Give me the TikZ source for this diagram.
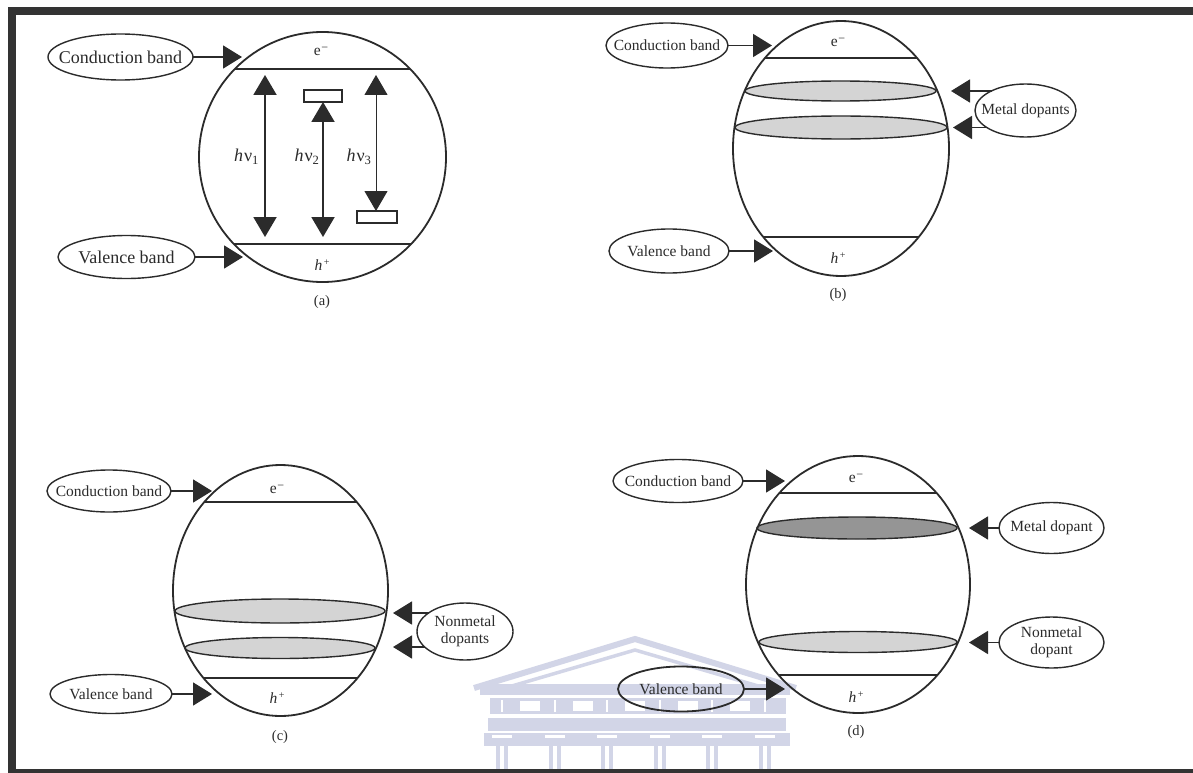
\documentclass[tikz,border=0pt]{standalone}
\usepackage{fontspec}
\setmainfont{Liberation Serif}
\usetikzlibrary{arrows.meta,shapes.geometric}
\definecolor{ink}{HTML}{2B2B2B}
\definecolor{framegray}{HTML}{333333}
\definecolor{dopelight}{HTML}{D4D4D4}
\definecolor{dopedark}{HTML}{959595}
\definecolor{crest}{RGB}{210,213,231}

\newcommand{\elec}{e\kern0.5pt\raisebox{0.55ex}{\fontsize{12}{12}\selectfont −}}
\newcommand{\hole}{\textit{h}\kern1.5pt\raisebox{0.75ex}{\fontsize{10}{10}\selectfont +}}

\begin{document}
\begin{tikzpicture}[x=1pt,y=-1pt,
  lbl/.style={draw=ink, line width=1.4pt, ellipse, inner sep=0pt, outer sep=0pt,
              text=ink, font=\fontsize{15.5}{17}\selectfont},
  biglbl/.style={lbl, font=\fontsize{18}{20}\selectfont},
  txt/.style={text=ink, inner sep=0pt, font=\fontsize{15.5}{17}\selectfont},
  shell/.style={draw=ink, line width=1.8pt, ellipse, inner sep=0pt, outer sep=0pt},
  band/.style={draw=ink, line width=1.8pt},
  thinband/.style={draw=ink, line width=1.1pt},
  dope/.style={draw=ink, line width=1.4pt, ellipse, inner sep=0pt, fill=dopelight},
  dopeheavy/.style={dope, fill=dopedark},
  ptr/.style={draw=ink, line width=1.6pt, -{Triangle[length=19pt,width=23pt]}},
  dbl/.style={draw=ink, line width=2pt,
              {Triangle[length=20pt,width=23pt]}-{Triangle[length=20pt,width=23pt]}},
  dblthin/.style={dbl, line width=1pt},
  trap/.style={draw=ink, line width=1.4pt, fill=white, inner sep=0pt, outer sep=0pt,
               minimum height=12pt}
]
\useasboundingbox (0,0) rectangle (1193,773);
\fill[white] (0,0) rectangle (1193,773);

% ---------- faint building emblem ----------
\begin{scope}
  \draw[crest, line width=6pt, line join=miter] (474,688) -- (635,639) -- (796,688);
  \draw[crest, line width=3.5pt, line join=miter] (505,688) -- (635,650) -- (765,688);
  \fill[crest] (480,684) rectangle (790,695);
  \fill[crest] (490,698) rectangle (786,714);
  \foreach \k in {0,...,4} {
    \pgfmathsetmacro{\xo}{496+52.5*\k}
    \fill[white] (\xo+24,701) rectangle (\xo+44,711);
    \fill[white] (\xo+5,700) rectangle (\xo+7,712);
  }
  \fill[white] (759+5,700) rectangle (759+7,712);
  \fill[crest] (488,718) rectangle (786,731);
  \fill[crest] (484,733) rectangle (790,746);
  \foreach \k in {0,...,5} {
    \pgfmathsetmacro{\xo}{496+52.5*\k}
    \fill[white] (\xo-4,735) rectangle (\xo+16,738);
    \fill[crest] (\xo,746) rectangle (\xo+4,769);
    \fill[crest] (\xo+8,746) rectangle (\xo+12,769);
  }
\end{scope}

% ======================= panel (a) =======================
\begin{scope}
  \clip (322.5,157) ellipse [x radius=123.5pt, y radius=125pt];
  \draw[band] (190,69) -- (460,69);
  \draw[band] (190,244) -- (460,244);
\end{scope}
\node[shell, minimum width=247pt, minimum height=250pt] (Sa) at (322.5,157) {};
\node[txt] (ea) at (321,51) {\elec};
\node[txt] (ha) at (322,265) {\hole};
\node[txt, font=\fontsize{14.5}{16}\selectfont] (capa) at (322,302) {(a)};

\node[biglbl, minimum width=145pt, minimum height=46pt] (Ca) at (120.5,57)
  {\makebox[0pt]{Conduction band}};
\node[biglbl, minimum width=137pt, minimum height=43pt] (Va) at (126.5,257)
  {\makebox[0pt]{Valence band}};
\coordinate (tCa) at (242,57);
\coordinate (tVa) at (243,257);
\draw[ptr] (Ca.east) -- (tCa);
\draw[ptr] (Va.east) -- (tVa);

% trap levels
\node[trap, minimum width=38pt] (r2) at (323,96) {};
\node[trap, minimum width=40pt] (r3) at (377,217) {};
\coordinate (t1) at (265,75);
\coordinate (b1) at (265,237);
\coordinate (b2) at (323,237);
\coordinate (t3) at (376,75);
\draw[dbl] (t1) -- (b1);
\draw[dbl] (r2.south) -- (b2);
\draw[dblthin] (t3) -- (t3 |- r3.north);
\node[txt, font=\fontsize{18}{20}\selectfont] (nu1) at (246.5,157) {\textit{h}\kern1pt ν\textsubscript{1}};
\node[txt, font=\fontsize{18}{20}\selectfont] (nu2) at (307,157) {\textit{h}\kern1pt ν\textsubscript{2}};
\node[txt, font=\fontsize{18}{20}\selectfont] (nu3) at (359,157) {\textit{h}\kern1pt ν\textsubscript{3}};

% ======================= panel (b) =======================
\begin{scope}
  \clip (841,148.5) ellipse [x radius=108pt, y radius=127.5pt];
  \draw[thinband] (720,58) -- (960,58);
  \draw[band] (720,237) -- (960,237);
\end{scope}
\node[dope, minimum width=191pt, minimum height=20pt] (db1) at (840.5,91) {};
\node[dope, minimum width=212pt, minimum height=23pt] (db2) at (841,127.5) {};
\node[shell, minimum width=216pt, minimum height=255pt] (Sb) at (841,148.5) {};
\node[txt] (eb) at (838,42) {\elec};
\node[txt] (hb) at (838,258) {\hole};
\node[txt, font=\fontsize{14.5}{16}\selectfont] (capb) at (838,295) {(b)};

\node[lbl, minimum width=122pt, minimum height=45pt] (Cb) at (667,45.5)
  {\makebox[0pt]{Conduction band}};
\node[lbl, minimum width=120pt, minimum height=44pt] (Vb) at (669,251)
  {\makebox[0pt]{Valence band}};
\node[lbl, minimum width=101pt, minimum height=53pt] (Mb) at (1025.5,110.5)
  {\makebox[0pt]{Metal dopants}};
\coordinate (tCb) at (772,45.5);
\coordinate (tVb) at (773,251);
\coordinate (tMb1) at (951,91);
\coordinate (tMb2) at (953,127.5);
\draw[ptr] (Cb.east) -- (tCb);
\draw[ptr] (Vb.east) -- (tVb);
\draw[ptr] (tMb1 -| Mb.150) -- (tMb1);
\draw[ptr] (tMb2 -| Mb.204) -- (tMb2);

% ======================= panel (c) =======================
\begin{scope}
  \clip (280.5,590.5) ellipse [x radius=107.5pt, y radius=125.5pt];
  \draw[band] (160,502) -- (400,502);
  \draw[band] (160,678) -- (400,678);
\end{scope}
\node[dope, minimum width=210pt, minimum height=24pt] (dc1) at (280,611) {};
\node[dope, minimum width=190pt, minimum height=21pt] (dc2) at (280,648) {};
\node[shell, minimum width=215pt, minimum height=251pt] (Sc) at (280.5,590.5) {};
\node[txt] (ec) at (277,489) {\elec};
\node[txt] (hc) at (277,698) {\hole};
\node[txt, font=\fontsize{14.5}{16}\selectfont] (capc) at (280,737) {(c)};

\node[lbl, minimum width=124pt, minimum height=42pt] (Cc) at (109,491)
  {\makebox[0pt]{Conduction band}};
\node[lbl, minimum width=122pt, minimum height=39pt] (Vc) at (111,694)
  {\makebox[0pt]{Valence band}};
\node[lbl, minimum width=96pt, minimum height=57pt] (Nc) at (465,631.5)
  {\makebox[0pt]{\begin{tabular}{@{}c@{}}Nonmetal\\dopants\end{tabular}}};
\coordinate (tCc) at (212,491);
\coordinate (tVc) at (212,694);
\coordinate (tNc1) at (393,613);
\coordinate (tNc2) at (393,647);
\draw[ptr] (Cc.east) -- (tCc);
\draw[ptr] (Vc.east) -- (tVc);
\draw[ptr] (tNc1 -| Nc.153) -- (tNc1);
\draw[ptr] (tNc2 -| Nc.201) -- (tNc2);

% ======================= panel (d) =======================
\begin{scope}
  \clip (858,584.5) ellipse [x radius=112pt, y radius=128.5pt];
  \draw[band] (740,493) -- (980,493);
  \draw[band] (740,675) -- (980,675);
\end{scope}
\node[dopeheavy, minimum width=200pt, minimum height=22pt] (dd1) at (857,528) {};
\node[dope, minimum width=198pt, minimum height=21pt] (dd2) at (858,642) {};
\node[shell, minimum width=224pt, minimum height=257pt] (Sd) at (858,584.5) {};
\node[txt] (ed) at (856,478) {\elec};
\node[txt] (hd) at (856,697) {\hole};
\node[txt, font=\fontsize{14.5}{16}\selectfont] (capd) at (856,732) {(d)};

\node[lbl, minimum width=130pt, minimum height=43pt] (Cd) at (678,481)
  {\makebox[0pt]{Conduction band}};
\node[lbl, line width=1.8pt, minimum width=126pt, minimum height=45pt] (Vd) at (681,689)
  {\makebox[0pt]{Valence band}};
\node[lbl, minimum width=105pt, minimum height=51pt] (Md) at (1051.5,528)
  {\makebox[0pt]{Metal dopant}};
\node[lbl, minimum width=105pt, minimum height=51pt] (Nd) at (1051.5,642.5)
  {\makebox[0pt]{\begin{tabular}{@{}c@{}}Nonmetal\\dopant\end{tabular}}};
\coordinate (tCd) at (785,481);
\coordinate (tVd) at (785,689);
\coordinate (tMd) at (969,528);
\coordinate (tNd) at (969,642.5);
\draw[ptr] (Cd.east) -- (tCd);
\draw[ptr] (Vd.east) -- (tVd);
\draw[ptr] (Md.west) -- (tMd);
\draw[ptr] (Nd.west) -- (tNd);

% ---------- page frame ----------
\fill[framegray] (8,7) rectangle (1193,15);
\fill[framegray] (8,7) rectangle (16,773);
\fill[framegray] (8,769) rectangle (1193,773);
\end{tikzpicture}
\end{document}
